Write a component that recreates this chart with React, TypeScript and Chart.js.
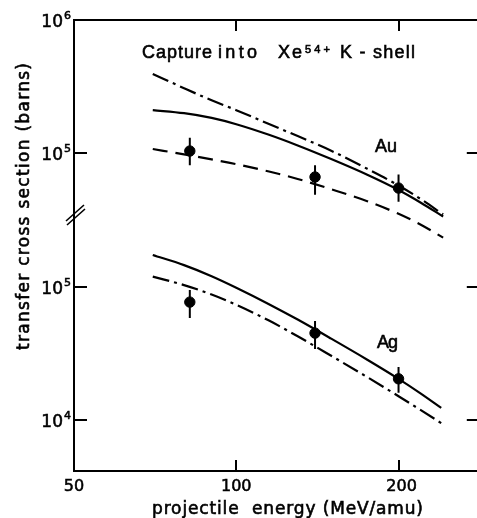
import React, { useEffect, useRef } from 'react';
import { Chart, registerables } from 'chart.js';

Chart.register(...registerables);

// ---- data ----
const energyTicks = [50, 100, 200];
const auTicks = [1e5, 1e6];
const agTicks = [1e4, 1e5];

const energyPoints = [82, 140, 200];
const auMeasured = [1.035e5, 6.6e4, 5.45e4];
const auErrLow = [8.1e4, 4.85e4, 4.3e4];
const auErrHigh = [1.3e5, 8.1e4, 6.9e4];
const agMeasured = [7.7e4, 4.5e4, 2.04e4];
const agErrLow = [5.85e4, 3.42e4, 1.6e4];
const agErrHigh = [9.5e4, 5.55e4, 2.5e4];

const auEnergy = [70, 80, 90, 100, 115, 130, 150, 175, 200, 220, 242];
const auSolid = [2.1e5, 1.992e5, 1.836e5, 1.646e5, 1.37e5, 1.139e5, 9.0e4, 6.86e4, 5.27e4, 4.23e4, 3.33e4];
const auDashDot = [3.93e5, 3.07e5, 2.49e5, 2.1e5, 1.65e5, 1.34e5, 1.04e5, 7.6e4, 5.7e4, 4.5e4, 3.45e4];
const auDashed = [1.072e5, 9.76e4, 8.95e4, 8.24e4, 7.26e4, 6.38e4, 5.34e4, 4.34e4, 3.49e4, 2.89e4, 2.31e4];

const agEnergy = [70, 80, 90, 100, 115, 130, 150, 175, 200, 220, 240];
const agSolid = [1.74e5, 1.461e5, 1.206e5, 9.88e4, 7.43e4, 5.69e4, 4.09e4, 2.84e4, 2.04e4, 1.58e4, 1.233e4];
const agDashDot = [1.197e5, 1.033e5, 8.78e4, 7.35e4, 5.59e4, 4.26e4, 3.04e4, 2.1e4, 1.51e4, 1.185e4, 9.48e3];

const titleWords = ['Capture', 'into', 'Xe'];
const titleSup = '54+';
const titleTail = 'K - shell';
const xTitle = 'projectile  energy (MeV/amu)';
const yTitle = 'transfer cross section (barns)';
const auLabel = 'Au';
const agLabel = 'Ag';

// ---- helpers ----
const pts = (xs: number[], ys: number[]) => xs.map((x, i) => ({ x, y: ys[i] }));
const errSegs = (lo: number[], hi: number[]) =>
  energyPoints.flatMap((e, i) => [
    { x: e, y: lo[i] },
    { x: e, y: hi[i] },
    { x: e, y: null as any },
  ]);

const FONT = '"DejaVu Sans", sans-serif';
const TFONT = '"Liberation Sans", "DejaVu Sans", sans-serif';

const lineDs = (data: any[], yAxisID: string, dash: number[]) => ({
  type: 'line' as const,
  data,
  yAxisID,
  xAxisID: 'x',
  borderColor: '#000',
  borderWidth: 2.2,
  borderDash: dash,
  pointRadius: 0,
  fill: false,
  cubicInterpolationMode: 'monotone' as const,
  clip: false as const,
});

const errDs = (data: any[], yAxisID: string) => ({
  type: 'line' as const,
  data,
  yAxisID,
  xAxisID: 'x',
  borderColor: '#000',
  borderWidth: 2,
  pointRadius: 0,
  spanGaps: false,
  fill: false,
  clip: false as const,
});

const markDs = (data: any[], yAxisID: string) => ({
  type: 'scatter' as const,
  data,
  yAxisID,
  xAxisID: 'x',
  backgroundColor: '#000',
  borderColor: '#000',
  pointRadius: 5.2,
  pointStyle: 'circle',
  showLine: false,
  clip: false as const,
});

// draw text left-aligned at (x0, y) spread to a target width, slightly emboldened
function fitText(ctx: any, text: string, x0: number, width: number, y: number, size: number, family = TFONT) {
  ctx.save();
  ctx.font = `${size}px ${family}`;
  ctx.textAlign = 'left';
  ctx.textBaseline = 'alphabetic';
  const hasLS = 'letterSpacing' in ctx;
  if (hasLS) ctx.letterSpacing = '0px';
  const w = ctx.measureText(text).width;
  ctx.translate(x0, y);
  if (hasLS && text.length > 1) {
    const ls = (width - w) / (text.length - 1);
    ctx.letterSpacing = `${ls}px`;
  } else {
    ctx.scale(width / w, 1);
  }
  ctx.lineWidth = 0.6;
  ctx.strokeStyle = '#000';
  ctx.fillText(text, 0, 0);
  ctx.strokeText(text, 0, 0);
  ctx.restore();
}

function boldText(ctx: any, text: string, x: number, y: number, size: number, align: string, base: string) {
  ctx.save();
  ctx.font = `${size}px ${FONT}`;
  ctx.textAlign = align;
  ctx.textBaseline = base;
  ctx.lineWidth = 0.55;
  ctx.strokeStyle = '#000';
  ctx.fillText(text, x, y);
  ctx.strokeText(text, x, y);
  ctx.restore();
}

const decorPlugin = {
  id: 'decor',
  afterDraw(chart: any) {
    const { ctx, chartArea: a, scales } = chart;
    const xs = scales.x;
    const yAu = scales.yAu;
    const yAg = scales.yAg;
    ctx.save();
    ctx.strokeStyle = '#000';
    ctx.fillStyle = '#000';
    ctx.lineWidth = 2;
    // top and right frame
    ctx.beginPath();
    ctx.moveTo(a.left - 1, a.top);
    ctx.lineTo(a.right + 1, a.top);
    ctx.moveTo(a.right, a.top);
    ctx.lineTo(a.right, a.bottom);
    ctx.stroke();
    // x ticks (inward, bottom & top)
    ctx.beginPath();
    for (const v of energyTicks) {
      if (v === xs.min) continue;
      const px = Math.round(xs.getPixelForValue(v));
      ctx.moveTo(px, a.bottom);
      ctx.lineTo(px, a.bottom - 11);
      ctx.moveTo(px, a.top);
      ctx.lineTo(px, a.top + 11);
    }
    // y ticks (inward, left & right)
    const yTick = (sc: any, vals: number[]) => {
      for (const v of vals) {
        const py = Math.round(sc.getPixelForValue(v));
        ctx.moveTo(a.left, py);
        ctx.lineTo(a.left + 13, py);
        ctx.moveTo(a.right, py);
        ctx.lineTo(a.right - 13, py);
      }
    };
    yTick(yAu, auTicks);
    yTick(yAg, agTicks);
    ctx.stroke();

    // axis break marks
    const by = yAu.bottom;
    ctx.lineWidth = 1.6;
    ctx.beginPath();
    ctx.moveTo(a.left - 8, by + 7);
    ctx.lineTo(a.left + 10, by - 9);
    ctx.moveTo(a.left - 7, by + 11);
    ctx.lineTo(a.left + 11, by - 5);
    ctx.stroke();

    // x tick labels
    for (const v of energyTicks) {
      const px = xs.getPixelForValue(v);
      boldText(ctx, String(v), px + (v === 200 ? 3 : 0), a.bottom + 20, 16, 'center', 'alphabetic');
    }

    // y tick labels 10^n
    const powLabel = (sc: any, vals: number[]) => {
      for (const v of vals) {
        const py = sc.getPixelForValue(v);
        const e = Math.round(Math.log10(v));
        boldText(ctx, '10', a.left - 11, py + 7, 17, 'right', 'alphabetic');
        boldText(ctx, String(e), a.left - 10, py - 1, 11, 'left', 'alphabetic');
      }
    };
    powLabel(yAu, auTicks);
    powLabel(yAg, agTicks);

    // title pieces
    fitText(ctx, titleWords[0], 142, 70, 58, 18);
    fitText(ctx, titleWords[1], 218, 39, 58, 18);
    fitText(ctx, titleWords[2], 278, 24, 58, 18);
    fitText(ctx, titleSup, 305, 25, 52.5, 11);
    fitText(ctx, titleTail, 340, 75, 58, 18);
    fitText(ctx, auLabel, 375, 22, 152, 18);
    fitText(ctx, agLabel, 377, 21, 348, 18);

    // axis titles
    fitText(ctx, xTitle, 152, 271, 514, 17, FONT);
    ctx.save();
    ctx.translate(29, 350);
    ctx.rotate(-Math.PI / 2);
    fitText(ctx, yTitle, 0, 287, 0, 17, FONT);
    ctx.restore();

    ctx.restore();
  },
};

export default function App() {
  const ref = useRef<HTMLCanvasElement>(null);
  useEffect(() => {
    if (!ref.current) return;
    const yScale = (min: number, max: number, weight: number, stackWeight: number, ticks: number[]) => ({
      type: 'logarithmic' as const,
      position: 'left' as const,
      stack: 'yst',
      stackWeight,
      weight,
      min,
      max,
      grid: { display: false, drawTicks: false },
      border: { display: true, color: '#000', width: 2 },
      ticks: { display: false },
      afterBuildTicks: (s: any) => {
        s.ticks = ticks.map((v) => ({ value: v }));
      },
      afterFit: (s: any) => {
        s.width = 74;
      },
    });
    const chart = new Chart(ref.current, {
      type: 'line',
      data: {
        datasets: [
          lineDs(pts(auEnergy, auDashDot), 'yAu', [17, 5, 3, 5]),
          lineDs(pts(auEnergy, auSolid), 'yAu', []),
          lineDs(pts(auEnergy, auDashed), 'yAu', [15, 8]),
          errDs(errSegs(auErrLow, auErrHigh), 'yAu'),
          markDs(pts(energyPoints, auMeasured), 'yAu'),
          lineDs(pts(agEnergy, agSolid), 'yAg', []),
          lineDs(pts(agEnergy, agDashDot), 'yAg', [17, 5, 3, 5]),
          errDs(errSegs(agErrLow, agErrHigh), 'yAg'),
          markDs(pts(energyPoints, agMeasured), 'yAg'),
        ] as any,
      },
      options: {
        responsive: false,
        animation: false,
        events: [],
        layout: { padding: { top: 20, right: 2, left: 0, bottom: 0 } },
        plugins: {
          legend: { display: false },
          tooltip: { enabled: false },
          title: { display: false },
        },
        scales: {
          x: {
            type: 'logarithmic',
            position: 'bottom',
            min: 50,
            max: 283,
            grid: { display: false, drawTicks: false },
            border: { display: true, color: '#000', width: 2 },
            ticks: { display: false },
            afterBuildTicks: (s: any) => {
              s.ticks = energyTicks.map((v) => ({ value: v }));
            },
            afterFit: (s: any) => {
              s.height = 47;
            },
          },
          yAu: yScale(34780, 1e6, 2, 194, auTicks),
          yAg: yScale(4135, 353900, 1, 257, agTicks),
        } as any,
      },
      plugins: [decorPlugin],
    });
    return () => chart.destroy();
  }, []);

  return (
    <div
      style={{
        position: 'fixed',
        left: 0,
        top: 0,
        width: 477,
        height: 518,
        overflow: 'hidden',
        background: '#fff',
      }}
    >
      <canvas ref={ref} width={486} height={518} style={{ width: 486, height: 518, display: 'block' }} />
    </div>
  );
}
